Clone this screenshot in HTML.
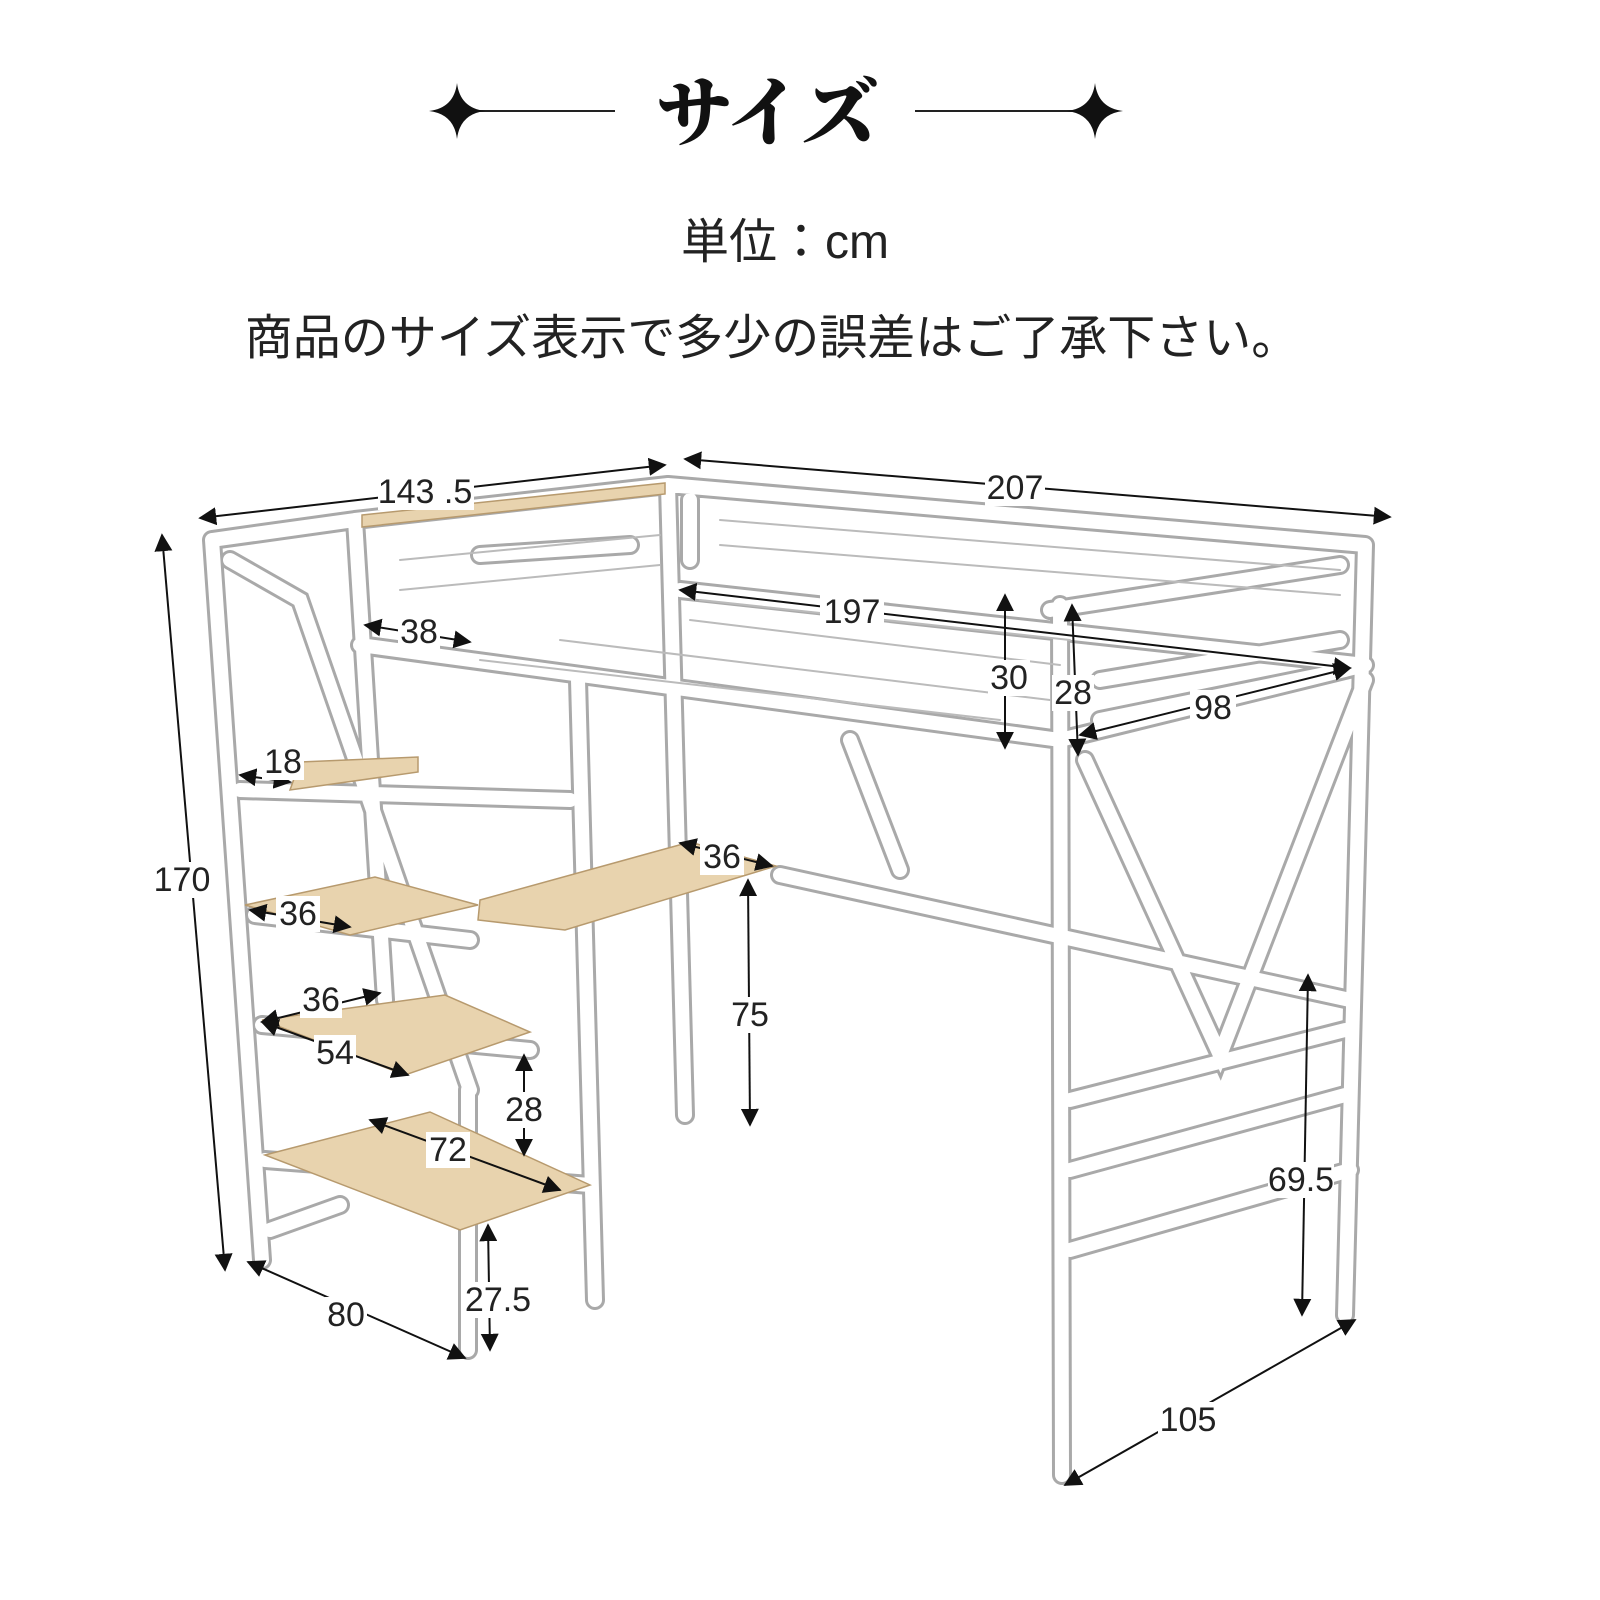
<!DOCTYPE html>
<html><head><meta charset="utf-8"><style>
html,body{margin:0;padding:0;background:#fff}
svg{display:block}
.t{font-family:"Liberation Sans","Noto Sans CJK JP",sans-serif;fill:#222}
.d{font-family:"Liberation Sans",sans-serif;font-size:34px;fill:#222;text-anchor:middle;dominant-baseline:central}
</style></head><body>
<svg width="1600" height="1600" viewBox="0 0 1600 1600" xmlns="http://www.w3.org/2000/svg">
<defs>
<marker id="a" viewBox="0 0 10 10" refX="9" refY="5" markerWidth="9" markerHeight="9" orient="auto-start-reverse"><path d="M0,0 L10,5 L0,10 z" fill="#111"/></marker>
</defs>
<text x="767" y="140" text-anchor="middle" style="font-family:'Noto Serif CJK SC',serif;font-weight:900;font-size:76px;fill:#111">サイズ</text>
<line x1="455" y1="111" x2="615" y2="111" stroke="#222" stroke-width="2"/>
<line x1="915" y1="111" x2="1100" y2="111" stroke="#222" stroke-width="2"/>
<path d="M457,83 Q460,108 485,111 Q460,114 457,139 Q454,114 429,111 Q454,108 457,83z" fill="#111"/>
<path d="M1095,83 Q1098,108 1123,111 Q1098,114 1095,139 Q1092,114 1067,111 Q1092,108 1095,83z" fill="#111"/>
<text class="t" x="785" y="258" text-anchor="middle" font-size="48">単位：cm</text>
<text class="t" x="772" y="354" text-anchor="middle" font-size="48">商品のサイズ表示で多少の誤差はご了承下さい。</text>

<g stroke-linecap="round" fill="none">
<g stroke="#a9a9a9" stroke-width="20">
<path d="M212,540 L262,1260 M355,520 L385,1000 M468,1090 L468,1350 M668,485 L685,1115 M578,680 L595,1300 M1060,605 L1062,1475 M1365,545 L1345,1315
M212,540 L355,520 M355,520 L668,485 M668,485 L1365,545 M360,645 L1060,740 M1060,740 L1365,665 M680,590 L1365,665
M480,555 L630,545 M690,500 L690,560 M1050,610 L1340,565 M1100,680 L1340,640 M1100,720 L1345,670
M240,790 L570,800 M255,915 L470,940 M262,1025 L530,1050 M265,1160 L590,1185 M780,875 L1350,1000 M1070,1100 L1345,1030 M1070,1170 L1345,1095 M1070,1250 L1350,1170
M230,560 L300,600 L470,1090 M850,740 L900,870 M1085,760 L1220,1055 L1365,680 M270,1230 L340,1205"/>
</g>
<g stroke="#fff" stroke-width="14">
<path d="M212,540 L262,1260 M355,520 L385,1000 M468,1090 L468,1350 M668,485 L685,1115 M578,680 L595,1300 M1060,605 L1062,1475 M1365,545 L1345,1315
M212,540 L355,520 M355,520 L668,485 M668,485 L1365,545 M360,645 L1060,740 M1060,740 L1365,665 M680,590 L1365,665
M480,555 L630,545 M690,500 L690,560 M1050,610 L1340,565 M1100,680 L1340,640 M1100,720 L1345,670
M240,790 L570,800 M255,915 L470,940 M262,1025 L530,1050 M265,1160 L590,1185 M780,875 L1350,1000 M1070,1100 L1345,1030 M1070,1170 L1345,1095 M1070,1250 L1350,1170
M230,560 L300,600 L470,1090 M850,740 L900,870 M1085,760 L1220,1055 L1365,680 M270,1230 L340,1205"/>
</g>
<g stroke="#bbb" stroke-width="2">
<path d="M700,600 L1070,640 M690,620 L1060,665 M560,640 L1050,700 M480,660 L1000,720 M720,520 L1340,570 M720,545 L1340,595 M400,560 L660,535 M400,590 L660,565"/>
</g>
</g>
<g fill="#e8d3ae" stroke="#b79a6e" stroke-width="1.5">
<polygon points="362,515 665,483 665,494 362,527"/>
<polygon points="300,762 418,757 418,772 290,790"/>
<polygon points="245,905 375,877 478,905 350,935"/>
<polygon points="480,900 690,842 776,866 565,930 478,920"/>
<polygon points="262,1020 445,995 530,1032 405,1075"/>
<polygon points="265,1155 430,1112 590,1185 460,1230"/>
</g>
<g stroke="#111" stroke-width="2" marker-start="url(#a)" marker-end="url(#a)">
<line x1="200" y1="518" x2="665" y2="465"/>
<line x1="685" y1="459" x2="1390" y2="517"/>
<line x1="162" y1="535" x2="225" y2="1270"/>
<line x1="365" y1="625" x2="470" y2="642"/>
<line x1="680" y1="590" x2="1350" y2="668"/>
<line x1="1005" y1="595" x2="1005" y2="748"/>
<line x1="1072" y1="605" x2="1078" y2="755"/>
<line x1="1080" y1="735" x2="1350" y2="668"/>
<line x1="240" y1="775" x2="290" y2="782"/>
<line x1="680" y1="843" x2="772" y2="866"/>
<line x1="250" y1="910" x2="350" y2="927"/>
<line x1="748" y1="880" x2="750" y2="1125"/>
<line x1="262" y1="1022" x2="380" y2="993"/>
<line x1="262" y1="1022" x2="408" y2="1075"/>
<line x1="524" y1="1055" x2="524" y2="1155"/>
<line x1="370" y1="1120" x2="560" y2="1190"/>
<line x1="488" y1="1225" x2="490" y2="1350"/>
<line x1="248" y1="1262" x2="465" y2="1358"/>
<line x1="1308" y1="975" x2="1302" y2="1315"/>
<line x1="1065" y1="1485" x2="1355" y2="1320"/>
</g>
<g fill="#fff">
<rect x="378" y="474" width="96" height="36"/><rect x="985" y="470" width="60" height="36"/>
<rect x="155" y="862" width="56" height="36"/><rect x="398" y="614" width="42" height="36"/>
<rect x="820" y="594" width="64" height="36"/><rect x="988" y="660" width="42" height="36"/>
<rect x="1052" y="675" width="42" height="36"/><rect x="1190" y="690" width="46" height="36"/>
<rect x="262" y="744" width="42" height="36"/><rect x="700" y="839" width="44" height="36"/>
<rect x="276" y="896" width="44" height="36"/><rect x="728" y="997" width="44" height="36"/>
<rect x="300" y="982" width="42" height="36"/><rect x="314" y="1035" width="42" height="36"/>
<rect x="502" y="1092" width="44" height="36"/><rect x="426" y="1132" width="44" height="36"/>
<rect x="467" y="1282" width="62" height="36"/><rect x="325" y="1297" width="42" height="36"/>
<rect x="1268" y="1162" width="66" height="36"/><rect x="1158" y="1402" width="60" height="36"/>
</g>
<g class="d">
<text x="425" y="492">143 .5</text><text x="1015" y="488">207</text>
<text x="182" y="880">170</text><text x="419" y="632">38</text>
<text x="852" y="612">197</text><text x="1009" y="678">30</text>
<text x="1073" y="693">28</text><text x="1213" y="708">98</text>
<text x="283" y="762">18</text><text x="722" y="857">36</text>
<text x="298" y="914">36</text><text x="750" y="1015">75</text>
<text x="321" y="1000">36</text><text x="335" y="1053">54</text>
<text x="524" y="1110">28</text><text x="448" y="1150">72</text>
<text x="498" y="1300">27.5</text><text x="346" y="1315">80</text>
<text x="1301" y="1180">69.5</text><text x="1188" y="1420">105</text>
</g>
</svg>
</body></html>
